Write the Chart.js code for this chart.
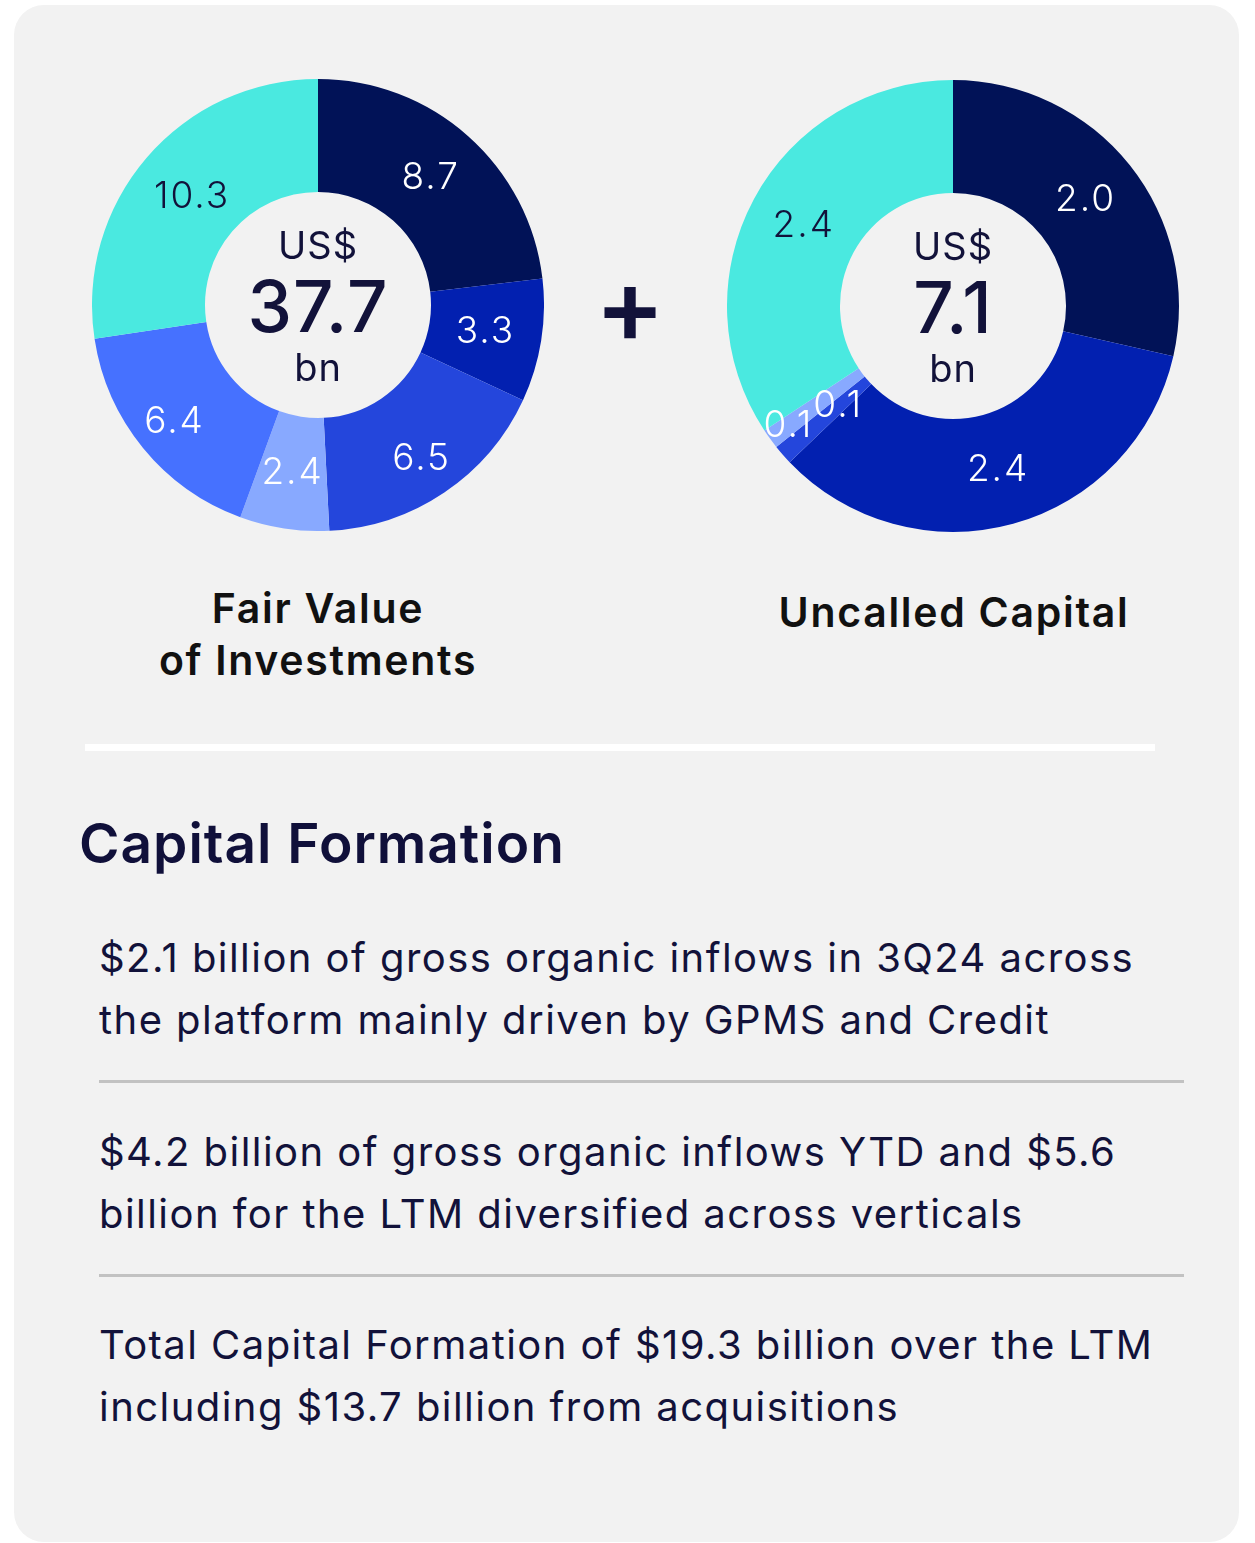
<!DOCTYPE html>
<html>
<head>
<meta charset="utf-8">
<script src="https://cdn.jsdelivr.net/npm/chart.js@4"></script>
<style>
  html, body { margin: 0; padding: 0; background: #ffffff; }
  body { width: 1255px; height: 1543px; position: relative; font-family: Inter, "Noto Sans", sans-serif; color: #12123a; }
  .card { position: absolute; left: 14px; top: 5px; width: 1225px; height: 1537px; background: #f2f2f2; border-radius: 30px; }
  .chartBox { position: absolute; width: 452px; height: 452px; }
  .center { position: absolute; transform: translate(-50%, -50%); text-align: center; white-space: nowrap; line-height: 1; }
  .cur { font-size: 38px; font-weight: 400; letter-spacing: 1px; }
  .big { font-size: 71px; font-weight: 500; letter-spacing: 1px; }
  .unit { font-size: 38px; font-weight: 400; letter-spacing: 1px; }
  .title { position: absolute; transform: translateX(-50%); text-align: center; font-size: 41px; font-weight: 600; color: #111111; line-height: 52px; white-space: nowrap; letter-spacing: 1.7px; }
  .plus { position: absolute; left: 630px; top: 305px; transform: translate(-50%, -50%); font-size: 104px; font-weight: 600; line-height: 1; color: #12123a; }
  .rule { position: absolute; left: 85px; top: 744px; width: 1070px; height: 7px; background: #ffffff; }
  h2 { position: absolute; left: 79px; top: 808px; margin: 0; font-size: 55px; font-weight: 600; line-height: 70px; color: #10103a; letter-spacing: 1px; }
  .para { position: absolute; left: 99px; width: 1120px; font-size: 40px; line-height: 62px; font-weight: 400; color: #12123a; letter-spacing: 1.45px; white-space: nowrap; }
  .sep { position: absolute; left: 99px; width: 1085px; height: 3px; background: #c2c2c2; }
</style>
</head>
<body>
<div class="card"></div>

<div class="chartBox" style="left:92px; top:79px;"><canvas id="fairValue"></canvas></div>
<div class="chartBox" style="left:727px; top:80px;"><canvas id="uncalled"></canvas></div>

<div class="center cur" style="left:318px; top:245px;">US$</div>
<div class="center big" style="left:318px; top:306px;">37.7</div>
<div class="center unit" style="left:318px; top:367px;">bn</div>

<div class="center cur" style="left:953px; top:246px;">US$</div>
<div class="center big" style="left:953px; top:307px;">7.1</div>
<div class="center unit" style="left:953px; top:368px;">bn</div>

<div class="plus">+</div>

<div class="title" style="left:318px; top:582px;">Fair Value<br>of Investments</div>
<div class="title" style="left:954px; top:586px;">Uncalled Capital</div>

<div class="rule"></div>

<h2>Capital Formation</h2>

<div class="para" style="top:927px;">$2.1 billion of gross organic inflows in 3Q24 across<br>the platform mainly driven by GPMS and Credit</div>
<div class="sep" style="top:1080px;"></div>
<div class="para" style="top:1121px;">$4.2 billion of gross organic inflows YTD and $5.6<br>billion for the LTM diversified across verticals</div>
<div class="sep" style="top:1274px;"></div>
<div class="para" style="top:1314px;">Total Capital Formation of $19.3 billion over the LTM<br>including $13.7 billion from acquisitions</div>

<script>
// values in US$ bn, clockwise from 12 o'clock
const fairValueValues = [8.7, 3.3, 6.5, 2.4, 6.4, 10.3];
const fairValueColors = ["#011257", "#0220b0", "#2446dc", "#88a9ff", "#4671ff", "#4ae9e0"];

const uncalledValues = [2.0, 2.4, 0.1, 0.1, 2.4];
const uncalledColors = ["#011257", "#0220b0", "#2446dc", "#88a9ff", "#4ae9e0"];

// where the value label sits across the ring (0 = inner edge, 1 = outer edge)
const fairValueLabelPos = [0.5, 0.5, 0.64, 0.5, 0.64, 0.47];
const uncalledLabelPos = [0.5, 0.5, 0.35, 0.8, 0.5];

const darkText = "#12123a";

const sliceLabels = {
    id: "sliceLabels",
    afterDatasetsDraw(chart) {
        const ctx = chart.ctx;
        const ds = chart.data.datasets[0];
        const meta = chart.getDatasetMeta(0);
        ctx.save();
        ctx.font = "300 37px Inter";
        ctx.letterSpacing = "2px";
        ctx.textAlign = "center";
        ctx.textBaseline = "middle";
        meta.data.forEach((arc, i) => {
            const p = arc.getProps(["x", "y", "startAngle", "endAngle", "innerRadius", "outerRadius"], true);
            const mid = (p.startAngle + p.endAngle) / 2;
            const r = p.innerRadius + (p.outerRadius - p.innerRadius) * ds.labelPos[i];
            ctx.fillStyle = ds.backgroundColor[i] === "#4ae9e0" ? darkText : "#ffffff";
            ctx.fillText(ds.data[i].toFixed(1), p.x + Math.cos(mid) * r, p.y + Math.sin(mid) * r);
        });
        ctx.restore();
    },
};

function createDoughnut(canvasId, values, colors, labelPos) {
    const ctx = document.getElementById(canvasId).getContext("2d");
    new Chart(ctx, {
        type: "doughnut",
        data: {
            labels: values.map((v) => v.toFixed(1)),
            datasets: [
                {
                    data: values,
                    backgroundColor: colors,
                    borderWidth: 0,
                    labelPos: labelPos,
                },
            ],
        },
        options: {
            responsive: true,
            maintainAspectRatio: false,
            animation: false,
            cutout: "50%",
            layout: { padding: 0 },
            plugins: {
                legend: { display: false },
                tooltip: { enabled: false },
            },
        },
        plugins: [sliceLabels],
    });
}

createDoughnut("fairValue", fairValueValues, fairValueColors, fairValueLabelPos);
createDoughnut("uncalled", uncalledValues, uncalledColors, uncalledLabelPos);
</script>
</body>
</html>
